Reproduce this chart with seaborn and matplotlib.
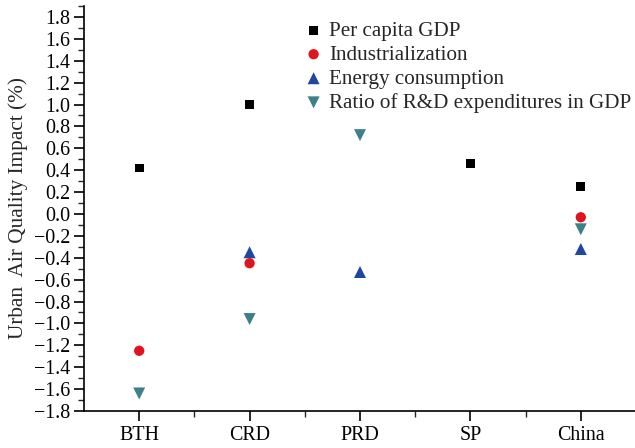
import matplotlib
matplotlib.use("Agg")
import matplotlib.pyplot as plt
import seaborn as sns
import pandas as pd
import numpy as np
from matplotlib.ticker import MultipleLocator, FixedLocator

regions = ["BTH", "CRD", "PRD", "SP", "China"]
gdp = [0.42, 1.00, np.nan, 0.46, 0.25]
industrialization = [-1.25, -0.45, np.nan, np.nan, -0.03]
energy = [np.nan, -0.35, -0.53, np.nan, -0.32]
rnd = [-1.64, -0.96, 0.72, np.nan, -0.14]
yticks = [-1.8, -1.6, -1.4, -1.2, -1.0, -0.8, -0.6, -0.4, -0.2, 0.0,
          0.2, 0.4, 0.6, 0.8, 1.0, 1.2, 1.4, 1.6, 1.8]

series = [
    ("Per capita GDP", gdp, "s", "#000000", 40),
    ("Industrialization", industrialization, "o", "#e0141e", 55),
    ("Energy consumption", energy, "^", "#1f47a0", 75),
    ("Ratio of R&D expenditures in GDP", rnd, "v", "#3e8088", 75),
]

sns.set_style("ticks")
plt.rcParams["font.family"] = ["Liberation Serif", "DejaVu Serif"]

fig = plt.figure(figsize=(6.35, 4.48), dpi=100)
ax = fig.add_axes([84 / 635, 37 / 448, 552 / 635, 405 / 448])

for name, vals, mk, col, s in series:
    df = pd.DataFrame({"region": pd.Categorical(regions, categories=regions), "value": vals})
    sns.scatterplot(data=df, x="region", y="value", marker=mk, color=col, s=s,
                    edgecolor="none", linewidth=0, label=name, ax=ax)

ax.set_xlim(-0.5, 4.5)
ax.set_ylim(-1.8, 1.9)
ax.yaxis.set_major_locator(FixedLocator(yticks))
ax.yaxis.set_minor_locator(MultipleLocator(0.1))
ax.set_yticklabels([f"{v + 0.0:.1f}".replace("-", "\u2212") if abs(v) > 1e-9 else "0.0" for v in yticks])
ax.xaxis.set_minor_locator(FixedLocator([0.5, 1.5, 2.5, 3.5]))
ax.tick_params(axis="both", which="major", length=7, width=1.2, labelsize=14.4, direction="out", colors="black")
ax.tick_params(axis="both", which="minor", length=4, width=1.0, direction="out")
ax.tick_params(axis="x", pad=4)
ax.tick_params(axis="y", pad=3)
ax.set_xlabel("")
ax.set_ylabel("Urban  Air Quality Impact (%)", fontsize=15.3, labelpad=4)
for sp in ["top", "right"]:
    ax.spines[sp].set_visible(False)
for sp in ["left", "bottom"]:
    ax.spines[sp].set_linewidth(1.2)
    ax.spines[sp].set_color("black")

ax.legend(loc="upper left", bbox_to_anchor=(0.393, 0.963), frameon=False, fontsize=15.2,
          handletextpad=0.15, labelspacing=0.2, handlelength=1.2, borderaxespad=0,
          borderpad=0)

fig.savefig("out.png", dpi=100)
